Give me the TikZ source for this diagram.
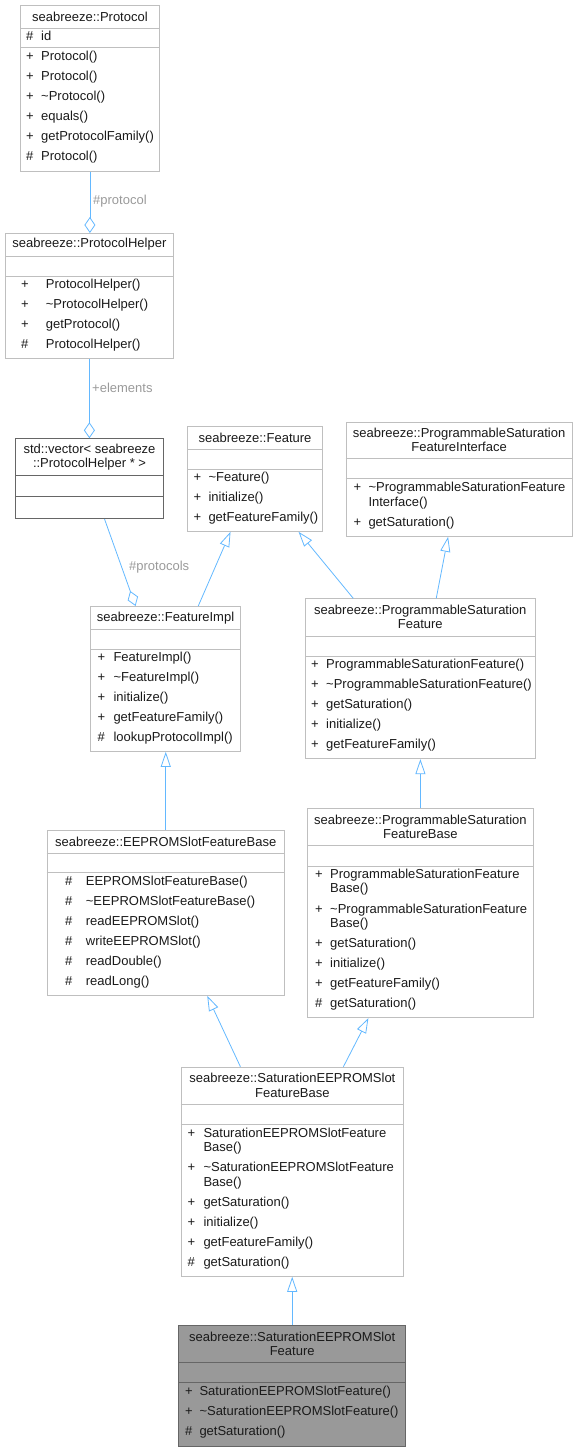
\documentclass[tikz,border=0pt]{standalone}
\usepackage{fontspec}
\setmainfont{Liberation Sans}
\definecolor{edgeblue}{HTML}{63B8FF}
\definecolor{boxgray}{HTML}{BFBFBF}
\definecolor{framedark}{HTML}{666666}
\definecolor{selfgray}{HTML}{999999}
\definecolor{labelgray}{HTML}{9A9A9A}
\definecolor{textgray}{HTML}{1A1A1A}
\usetikzlibrary{arrows.meta, positioning, calc}
\newcommand{\umlfont}{\fontsize{13}{14.3}\selectfont}
\newcommand{\umlclass}[9][classbox]
{
	\node[#1, anchor=north west, minimum width=#5pt, minimum height=#6pt] (#2) at (#3,#4) {};
	\draw[#1] ($(#2.north west)+(0,#7)$) -- ($(#2.north east)+(0,#7)$);
	\draw[#1] ($(#2.north west)+(0,#8)$) -- ($(#2.north east)+(0,#8)$);
	\node[classtitle] (#2-title) at ($(#2.north)+(0,#7/2)$) {#9};
}
\newcommand{\members}[4]
{
	\foreach \y/\s/\t [count=\i] in {#4} {
		\node[signcol] (#1-s\i) at (#2,\y) {\s};
		\node[memberrow] (#1-m\i) at (#3,\y) {\t};
	}
}

\begin{document}
\begin{tikzpicture}[x=1pt, y=-1pt,
	classbox/.style={draw=boxgray, fill=white, line width=0.8pt, inner sep=0pt},
	vectorbox/.style={draw=framedark, fill=white, line width=0.8pt, inner sep=0pt},
	selfbox/.style={draw=framedark, fill=selfgray, line width=0.8pt, inner sep=0pt},
	classtitle/.style={align=center, text=textgray, inner sep=0pt, font=\umlfont},
	signcol/.style={anchor=west, text=textgray, inner sep=0pt, text height=9.5pt, text depth=2.8pt, font=\umlfont},
	memberrow/.style={anchor=west, text=textgray, inner sep=0pt, text height=9.5pt, text depth=2.8pt, font=\umlfont},
	edgelabel/.style={anchor=west, text=labelgray, inner sep=0pt, font=\umlfont},
	inherit/.style={draw=edgeblue, line width=0.8pt, -{Triangle[length=15pt, width=10pt, fill=white]}},
	aggregate/.style={draw=edgeblue, line width=0.8pt, -{Diamond[length=16pt, width=11pt, fill=white]}}]
	\useasboundingbox (0,0) rectangle (577,1451);
	% classes
	\umlclass{protocol}{20}{5}{139}{166}{23.3}{42.7}{seabreeze::Protocol}
	\members{protocol}{26}{41}{37/\#/id, 57/+/Protocol(), 77/+/Protocol(), 97/+/\textasciitilde Protocol(),
		117/+/equals(), 137/+/getProtocolFamily(), 157/\#/Protocol()}
	\umlclass{helper}{5}{233}{168}{125.3}{23}{43}{seabreeze::ProtocolHelper}
	\members{helper}{21}{45.7}{285/+/ProtocolHelper(), 305/+/\textasciitilde ProtocolHelper(),
		325/+/getProtocol(), 345/\#/ProtocolHelper()}
	\umlclass[vectorbox]{vector}{15}{438.3}{148.3}{80}{37.4}{57.7}{std::vector< seabreeze\\::ProtocolHelper * >}
	\umlclass{feature}{187.3}{425.7}{134.7}{105.3}{23.6}{43.6}{seabreeze::Feature}
	\members{feature}{193.3}{208.3}{478.3/+/\textasciitilde Feature(), 498.3/+/initialize(), 518.3/+/getFeatureFamily()}
	\umlclass{psfi}{345.7}{421.7}{226}{114.3}{36.6}{56.6}{seabreeze::ProgrammableSaturation\\FeatureInterface}
	\members{psfi}{353.3}{368.3}{488.3/+/\textasciitilde ProgrammableSaturationFeature, 502.7//Interface(),
		523.3/+/getSaturation()}
	\umlclass{featimpl}{90}{606}{150.3}{145}{23.3}{43.3}{seabreeze::FeatureImpl}
	\members{featimpl}{97.3}{113.3}{658.3/+/FeatureImpl(), 678.3/+/\textasciitilde FeatureImpl(), 698.3/+/initialize(),
		718.3/+/getFeatureFamily(), 738.3/\#/lookupProtocolImpl()}
	\umlclass{psf}{305}{598.3}{229.7}{160}{37.7}{58.4}{seabreeze::ProgrammableSaturation\\Feature}
	\members{psf}{311}{326}{665/+/ProgrammableSaturationFeature(), 685/+/\textasciitilde ProgrammableSaturationFeature(),
		705/+/getSaturation(), 725/+/initialize(), 745/+/getFeatureFamily()}
	\umlclass{eeprom}{46.7}{830}{237.3}{165}{23.3}{42.7}{seabreeze::EEPROMSlotFeatureBase}
	\members{eeprom}{65}{85.7}{881.7/\#/EEPROMSlotFeatureBase(), 901.7/\#/\textasciitilde EEPROMSlotFeatureBase(),
		921.7/\#/readEEPROMSlot(), 941.7/\#/writeEEPROMSlot(), 961.7/\#/readDouble(), 981.7/\#/readLong()}
	\umlclass{psfb}{307.3}{807.7}{225.4}{209.6}{38}{58.3}{seabreeze::ProgrammableSaturation\\FeatureBase}
	\members{psfb}{315}{330}{875/+/ProgrammableSaturationFeature, 889.3//Base(),
		910/+/\textasciitilde ProgrammableSaturationFeature, 924.3//Base(), 944.3/+/getSaturation(),
		964.3/+/initialize(), 984.3/+/getFeatureFamily(), 1004.3/\#/getSaturation()}
	\umlclass{sefb}{180.7}{1066.7}{222.6}{209.3}{37.3}{57.6}{seabreeze::SaturationEEPROMSlot\\FeatureBase}
	\members{sefb}{187.3}{203.3}{1134/+/SaturationEEPROMSlotFeature, 1148.3//Base(),
		1168.3/+/\textasciitilde SaturationEEPROMSlotFeature, 1182.7//Base(), 1202.7/+/getSaturation(),
		1222.7/+/initialize(), 1242.7/+/getFeatureFamily(), 1262.7/\#/getSaturation()}
	\umlclass[selfbox]{sef}{178.3}{1325}{227}{121}{37.7}{57.7}{seabreeze::SaturationEEPROMSlot\\Feature}
	\members{sef}{185}{199.3}{1391.7/+/SaturationEEPROMSlotFeature(), 1411.7/+/\textasciitilde SaturationEEPROMSlotFeature(),
		1431.7/\#/getSaturation()}
	% relations
	\draw[aggregate] (protocol.south) -- (protocol.south |- helper.north);
	\draw[aggregate] (helper.south) -- (helper.south |- vector.north);
	\draw[aggregate] ([xshift=15pt]vector.south) -- ([xshift=-30pt]featimpl.north);
	\draw[inherit] ([xshift=32.7pt]featimpl.north) -- ([xshift=-24.5pt]feature.south);
	\draw[inherit] ([xshift=-67pt]psf.north) -- ([xshift=43.5pt]feature.south);
	\draw[inherit] ([xshift=16pt]psf.north) -- ([xshift=-11pt]psfi.south);
	\draw[inherit] (eeprom.north) -- (eeprom.north |- featimpl.south);
	\draw[inherit] (psfb.north) -- (psfb.north |- psf.south);
	\draw[inherit] ([xshift=-52pt]sefb.north) -- ([xshift=41.5pt]eeprom.south);
	\draw[inherit] ([xshift=51pt]sefb.north) -- ([xshift=-52pt]psfb.south);
	\draw[inherit] (sef.north) -- (sef.north |- sefb.south);
	\node[edgelabel] (lbl-protocol) at (93,201) {\#protocol};
	\node[edgelabel] (lbl-elements) at (92,388) {+elements};
	\node[edgelabel] (lbl-protocols) at (129,567) {\#protocols};
\end{tikzpicture}
\end{document}
